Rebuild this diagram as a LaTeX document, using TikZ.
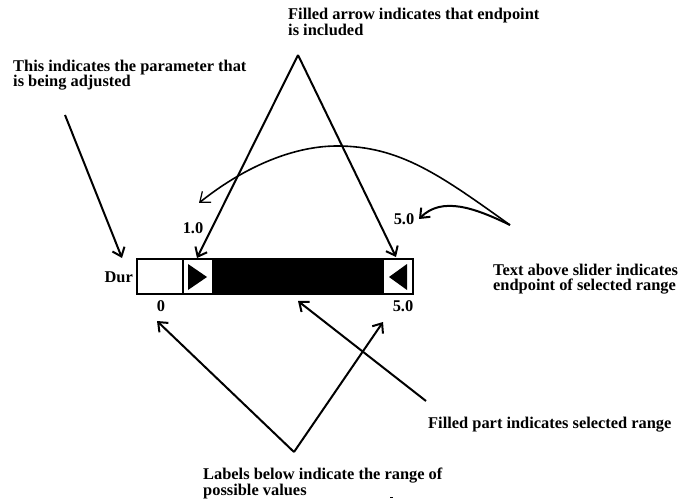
\documentclass[tikz,border=0pt]{standalone}
\usepackage{fontspec}
\setmainfont{Liberation Serif}
\usetikzlibrary{arrows.meta}
\begin{document}
\begin{tikzpicture}[x=1bp,y=-1bp,
  lbl/.style={font=\fontsize{16.4bp}{16bp}\selectfont\bfseries, inner sep=0pt, anchor=base west},
  num/.style={font=\fontsize{16.4bp}{16bp}\selectfont\bfseries, inner sep=0pt, anchor=base},
  ptr/.style={line width=2bp, -{Straight Barb[length=8bp,width=13bp]}},
  frame/.style={draw, line width=1.3bp}]
\useasboundingbox (0,0) rectangle (678,502);
% slider
\fill[black] (212,259) rectangle (384,294);
\draw[frame] (137,259) rectangle (413,294);
\draw[frame] (183,259) -- (183,294);
\fill (188,264) -- (188,290) -- (207,277) -- cycle;
\fill (407,264) -- (407,290) -- (389,277) -- cycle;
% texts
\node[lbl] (top1) at (288,20) {Filled arrow indicates that endpoint};
\node[lbl] (top2) at (288,36) {is included};
\node[lbl] (par1) at (13,72) {This indicates the parameter that};
\node[lbl] (par2) at (13,87) {is being adjusted};
\node[lbl] (txt1) at (493,275) {Text above slider indicates};
\node[lbl] (txt2) at (493,290) {endpoint of selected range};
\node[lbl] (fil) at (428,428) {Filled part indicates selected range};
\node[lbl] (lab1) at (203,479) {Labels below indicate the range of};
\node[lbl] (lab2) at (203,495) {possible values};
\node[num, anchor=base east] (dur) at (133,282) {Dur};
\node[num] (lo) at (161,311) {0};
\node[num] (hi) at (403,311) {5.0};
\node[num] (sel1) at (193,234) {1.0};
\node[num] (sel2) at (404,225) {5.0};
% connector ends
\coordinate (aT) at (298,55);
\coordinate (eL) at (197,258);
\coordinate (eR) at (396,257);
\coordinate (pS) at (65,115);
\coordinate (pE) at (122,258);
\coordinate (cS) at (510,225);
\coordinate (pk) at (337,146);
\coordinate (cE1) at (199,203);
\coordinate (cE2) at (419,219);
\coordinate (aB) at (294,452);
\coordinate (bL) at (157,321);
\coordinate (bR) at (383,322);
\coordinate (fS) at (426,401);
\coordinate (fE) at (298,301);
% connectors
\draw[ptr] (aT) -- (eL);
\draw[ptr] (aT) -- (eR);
\draw[ptr] (pS) -- (pE);
\draw[line width=1.6bp, -{Straight Barb[length=9bp,width=14bp,line width=1.2bp]}]
  (cS) .. controls (440,175) and (400,146) .. (pk)
       .. controls (290,146) and (240,170) .. (cE1);
\draw[ptr] (cS) .. controls (475,208) and (442,196) .. (cE2);
\draw[ptr] (aB) -- (bL);
\draw[ptr] (aB) -- (bR);
\draw[ptr] (fS) -- (fE);
\draw[line width=1bp] (390,497) -- (393,497);
\end{tikzpicture}
\end{document}
